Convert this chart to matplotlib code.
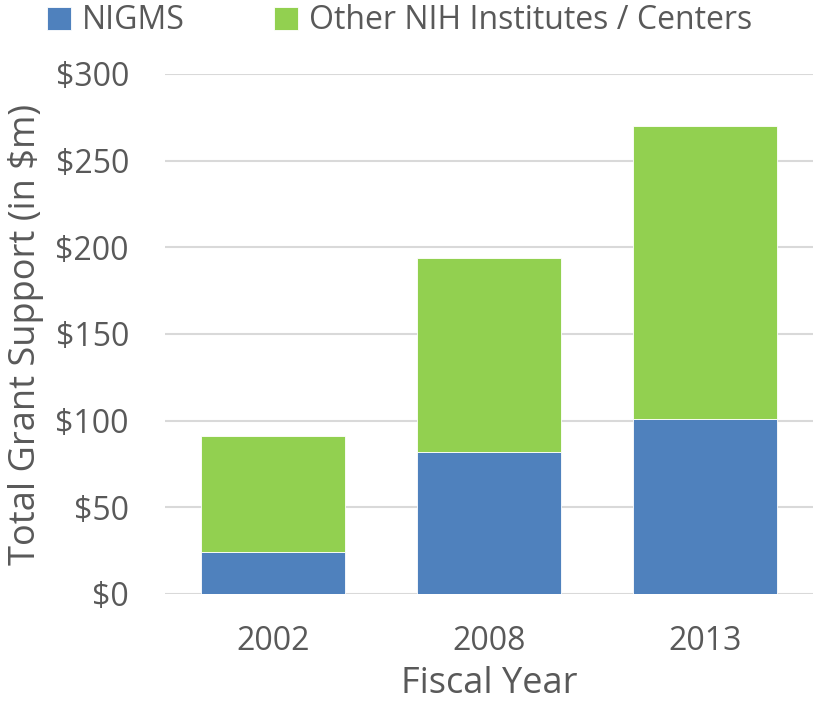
import matplotlib
matplotlib.use("Agg")
import matplotlib.pyplot as plt
from matplotlib.ticker import FuncFormatter

years = ["2002", "2008", "2013"]
nigms = [24.5, 81.7, 101.0]
other = [66.5, 112.0, 169.2]
yticks = [0, 50, 100, 150, 200, 250, 300]

plt.rcParams['font.family'] = ['Open Sans', 'DejaVu Sans']
txt = '#595959'

fig = plt.figure(figsize=(8.18, 7.02), dpi=100)
ax = fig.add_axes([165/818, 1-594/702, (813-165)/818, (594-74)/702])

x = list(range(len(years)))
b1 = ax.bar(x, nigms, width=0.667, color='#4F81BD', edgecolor='white', linewidth=0.6, label='NIGMS', zorder=3)
b2 = ax.bar(x, other, width=0.667, bottom=nigms, color='#92D050', edgecolor='white', linewidth=0.6,
            label='Other NIH Institutes / Centers', zorder=3)

ax.set_xlim(-0.5, 2.5)
ax.set_ylim(0, 300)
ax.set_yticks(yticks)
ax.yaxis.set_major_formatter(FuncFormatter(lambda v, p: f"${int(v)}"))
ax.set_xticks(x)
ax.set_xticklabels(years)
ax.grid(axis='y', color='#d9d9d9', linewidth=1.5, zorder=0)
for s in ax.spines.values():
    s.set_visible(False)
ax.tick_params(axis='both', length=0, labelsize=23, colors=txt)
ax.tick_params(axis='y', pad=26)
ax.tick_params(axis='x', pad=22)
ax.set_ylabel('Total Grant Support (in $m)', fontsize=26, color=txt, labelpad=8)
ax.set_xlabel('Fiscal Year', fontsize=26, color=txt, labelpad=6)

fig.legend(handles=[b1, b2], loc='upper left', bbox_to_anchor=(34/818, 1.012), ncol=2, frameon=False,
           fontsize=23, labelcolor=txt, handlelength=0.75, handleheight=0.75, handletextpad=0.35,
           columnspacing=2.8, borderaxespad=0)

fig.savefig('out.png', dpi=100)
